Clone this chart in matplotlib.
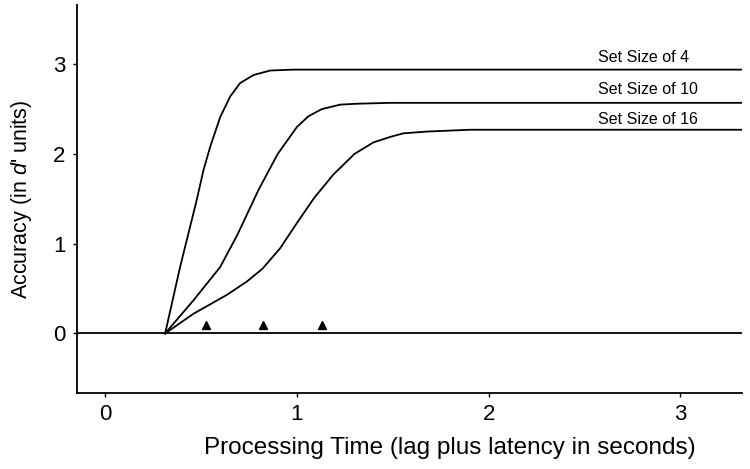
import numpy as np
import matplotlib
matplotlib.use("Agg")
import matplotlib.pyplot as plt

plt.rcParams['font.family'] = ['Liberation Sans', 'DejaVu Sans']
plt.rcParams['mathtext.fontset'] = 'custom'
plt.rcParams['mathtext.it'] = 'Liberation Sans:italic'
plt.rcParams['mathtext.rm'] = 'Liberation Sans'

# curves (time in s, accuracy in d')
t_set4 = [0.313, 0.391, 0.478, 0.513, 0.548, 0.600, 0.652, 0.704, 0.774, 0.861, 0.982, 3.32]
d_set4 = [0.0, 0.74, 1.49, 1.82, 2.08, 2.41, 2.64, 2.79, 2.88, 2.93, 2.94, 2.94]

t_set10 = [0.313, 0.461, 0.600, 0.690, 0.80, 0.90, 1.0, 1.06, 1.13, 1.226, 1.313, 1.487, 3.32]
d_set10 = [0.0, 0.37, 0.74, 1.10, 1.60, 2.00, 2.30, 2.42, 2.50, 2.55, 2.56, 2.57, 2.57]

t_set16 = [0.313, 0.461, 0.635, 0.74, 0.82, 0.913, 1.0, 1.09, 1.19, 1.30, 1.40, 1.487, 1.555, 1.68, 1.90, 3.32]
d_set16 = [0.0, 0.22, 0.43, 0.58, 0.72, 0.95, 1.23, 1.51, 1.77, 2.00, 2.13, 2.19, 2.23, 2.25, 2.27, 2.27]

tri_t = [0.527, 0.824, 1.132]
tri_d = [0.09, 0.09, 0.09]

labels = ["Set Size of 4", "Set Size of 10", "Set Size of 16"]
label_t = [2.81, 2.83, 2.83]
label_d = [3.07, 2.72, 2.38]

fig = plt.figure(figsize=(7.5, 4.69), dpi=100)
ax = fig.add_axes([0.1023, 0.1627, 0.8867, 0.8266])

ax.axhline(0, color='black', lw=1.3)
for t, d in [(t_set4, d_set4), (t_set10, d_set10), (t_set16, d_set16)]:
    ax.plot(t, d, color='black', lw=1.3)
ax.plot(tri_t, tri_d, linestyle='none', marker='^', color='black', markersize=6)

for lab, x, y in zip(labels, label_t, label_d):
    ax.text(x, y, lab, ha='center', va='center', fontsize=11.5)

ax.set_xlim(-0.148, 3.32)
ax.set_ylim(-0.66, 3.66)
ax.set_xticks([0, 1, 2, 3])
ax.set_yticks([0, 1, 2, 3])
ax.tick_params(labelsize=16, length=3, width=1, pad=5)
ax.spines['top'].set_visible(False)
ax.spines['right'].set_visible(False)
for s in ['left', 'bottom']:
    ax.spines[s].set_linewidth(1.3)

ax.set_xlabel('Processing Time (lag plus latency in seconds)', fontsize=17.5, labelpad=9)
ax.xaxis.label.set_x(0.561)
ax.set_ylabel("Accuracy (in $d$' units)", fontsize=15.5, labelpad=14)

fig.savefig('out.png', dpi=100)
